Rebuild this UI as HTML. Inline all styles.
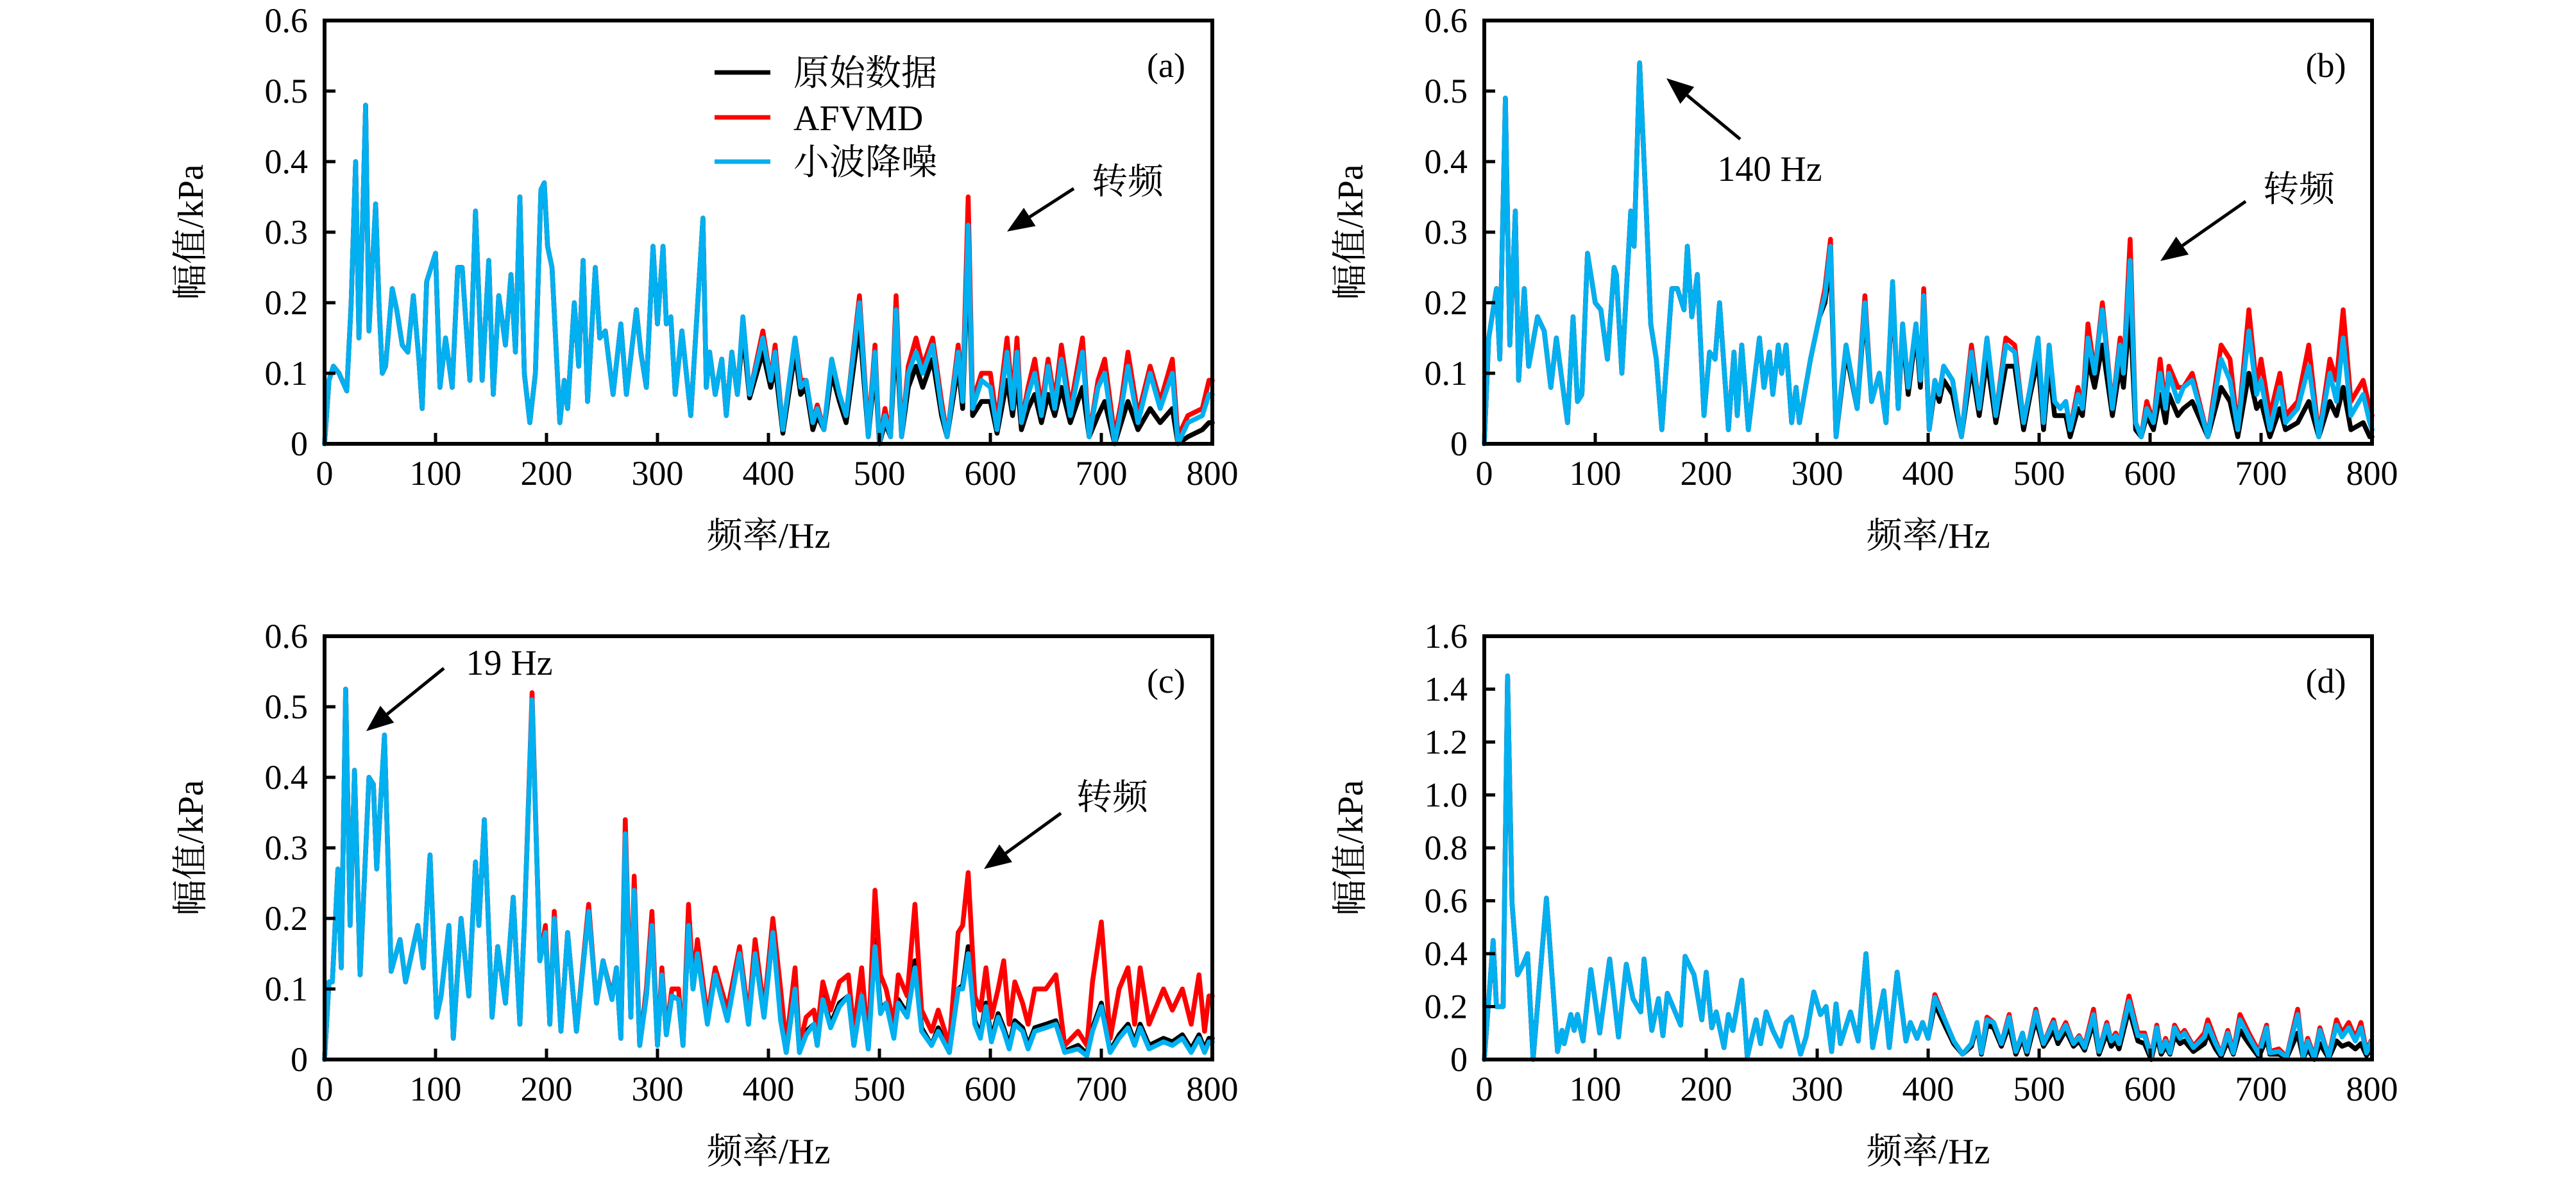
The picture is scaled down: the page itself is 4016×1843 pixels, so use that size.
<!DOCTYPE html>
<html><head><meta charset="utf-8"><style>
html,body{margin:0;padding:0;background:#fff;}
svg{display:block;}
.tk{font-family:"Liberation Serif","Noto Serif CJK SC",serif;font-size:54px;fill:#000;}
.cj{font-family:"Liberation Serif","Noto Serif CJK SC",serif;font-size:56px;fill:#000;}
</style></head><body>
<svg id="fig" xmlns="http://www.w3.org/2000/svg" width="4016" height="1843" viewBox="0 0 4016 1843"></svg>
<script>
// ---- Panel (a) ----
const aLowFreq=[0,4,8,13,20,24,28,31,34,37,40,46,49,52,55,61,65,70,75,80,85,88,92,100,104,109,115,120,124,131,136,142,148,152,157,163,168,172,176,180,185,190,195,198,201,205,212,216,219,225,229,233,237,244,248,253,260,267,272,281,285,290,296,300,305,308,312,316,322,330,341,344,347,352,358,362,367,372];
const aLowVal=[0,.09,.11,.10,.075,.20,.40,.15,.30,.48,.16,.34,.20,.10,.11,.22,.19,.14,.13,.21,.12,.05,.23,.27,.08,.15,.08,.25,.25,.09,.33,.09,.26,.07,.21,.14,.24,.13,.35,.10,.03,.10,.36,.37,.28,.25,.03,.09,.05,.20,.11,.26,.06,.25,.15,.16,.07,.17,.07,.19,.13,.08,.28,.17,.28,.17,.18,.07,.16,.04,.32,.08,.13,.07,.12,.04,.13,.07];
const aHighFreq=[377,383,395,402,406,413,424,429,434,440,444,450,457,464,470,482,490,496,500,505,510,515,520,526,533,539,548,556,561,571,575,580,584,592,600,606,615,620,624,628,634,640,646,652,658,664,672,683,689,697,703,712,718,724,733,744,753,764,769,778,791,797,800];
const aHighCyan=[.18,.07,.15,.09,.13,.02,.15,.08,.09,.03,.05,.02,.12,.07,.04,.20,.01,.13,0,.04,.01,.19,.01,.10,.13,.10,.14,.05,.01,.13,.06,.31,.05,.09,.08,.02,.13,.05,.13,.03,.07,.10,.04,.11,.05,.12,.04,.13,.01,.08,.10,0,.05,.11,.03,.10,.05,.10,0,.03,.04,.07,.07];
const aHighRed=[.18,.07,.16,.09,.14,.02,.15,.09,.09,.03,.055,.02,.12,.07,.04,.21,.015,.14,0,.05,.01,.21,.01,.11,.15,.11,.15,.06,.01,.14,.07,.35,.06,.10,.10,.03,.15,.06,.15,.03,.08,.12,.05,.12,.06,.14,.05,.15,.01,.09,.12,.01,.06,.13,.04,.11,.06,.12,.01,.04,.05,.09,.09];
const aHighBlack=[.16,.065,.13,.08,.11,.015,.13,.07,.08,.02,.04,.02,.10,.06,.03,.17,.01,.11,0,.03,.01,.16,.01,.08,.11,.08,.12,.04,.01,.11,.05,.28,.04,.06,.06,.015,.09,.04,.09,.02,.05,.07,.03,.07,.04,.08,.03,.08,.01,.04,.06,0,.03,.06,.02,.05,.03,.05,0,.01,.02,.03,.03];
// ---- Panel (b) ----
const bLowFreq=[0,4,6,11,14,19,23,28,31,36,40,48,54,60,65,75,80,84,88,93,100,105,111,117,119,124,132,135,140,146,150,155,160,169,174,180,183,187,192,198,203,208,212,220,225,228,232,238,248,252,257,260,265,268,272,277,281,284,294,302];
const bLowVal=[0,.15,.17,.22,.12,.49,.14,.33,.09,.22,.11,.18,.16,.08,.15,.03,.18,.06,.07,.27,.20,.19,.12,.25,.24,.10,.33,.28,.54,.33,.17,.12,.02,.22,.22,.19,.28,.18,.24,.04,.13,.12,.20,.02,.13,.04,.14,.02,.15,.08,.13,.07,.14,.10,.14,.03,.08,.03,.12,.18];
const bHighFreq=[307,312,317,326,336,343,349,356,362,368,373,377,382,389,393,396,401,406,410,414,422,430,439,446,453,461,470,478,486,492,499,504,509,514,519,524,528,535,539,544,550,557,566,573,576,582,587,592,597,603,609,614,617,625,630,638,652,664,672,679,689,696,700,708,717,722,733,743,752,762,768,774,781,792,798,800];
const bHighCyan=[.21,.28,.01,.14,.05,.20,.06,.10,.03,.23,.05,.17,.08,.17,.09,.21,.02,.09,.07,.11,.09,.01,.13,.05,.15,.04,.14,.13,.03,.08,.15,.03,.14,.06,.05,.06,.02,.07,.05,.15,.10,.19,.05,.14,.10,.26,.03,.01,.05,.03,.10,.05,.10,.06,.08,.09,.01,.12,.09,.02,.16,.07,.09,.02,.08,.03,.05,.11,.01,.10,.06,.15,.04,.07,.03,.02];
const bHighRed=[.22,.29,.01,.14,.05,.21,.06,.10,.03,.23,.05,.17,.08,.17,.09,.22,.02,.09,.07,.11,.09,.01,.14,.05,.15,.04,.15,.14,.03,.08,.15,.03,.14,.06,.05,.06,.02,.08,.05,.17,.10,.20,.05,.15,.10,.29,.03,.01,.06,.03,.12,.05,.11,.08,.08,.10,.01,.14,.12,.02,.19,.08,.12,.04,.10,.04,.06,.14,.01,.12,.09,.19,.06,.09,.05,.04];
const bHighBlack=[.20,.26,.01,.13,.05,.19,.06,.10,.03,.22,.05,.16,.07,.16,.08,.20,.02,.08,.06,.09,.07,.01,.11,.04,.12,.03,.11,.11,.02,.07,.12,.02,.11,.04,.04,.04,.01,.05,.04,.12,.08,.14,.04,.11,.08,.19,.02,.01,.04,.02,.07,.03,.07,.04,.05,.06,.01,.08,.06,.01,.10,.05,.06,.01,.05,.02,.03,.06,.01,.06,.04,.08,.02,.03,.01,.01];
// ---- Panel (c) ----
const cLowFreq=[0,4,7,12,15,19,23,27,32,40,44,47,54,60,68,73,84,89,95,101,105,112,116,123,130,136,139,144,151,156,163,170,176,180];
const cLowVal=[0,.11,.11,.27,.13,.525,.19,.41,.12,.40,.39,.27,.46,.125,.17,.11,.19,.13,.29,.06,.09,.19,.03,.20,.09,.28,.19,.34,.06,.16,.08,.23,.05,.19];
const cHighFreq=[187,194,199,203,207,213,219,227,238,245,251,259,263,267,271,276,279,284,290,295,300,304,308,313,319,323,328,332,336,345,352,363,374,382,388,396,404,411,416,424,428,434,441,444,449,456,464,472,477,484,490,496,501,506,513,517,525,532,538,547,553,563,571,575,580,586,591,596,601,607,612,617,622,629,634,640,650,659,667,679,687,692,700,708,716,724,730,735,743,756,764,773,781,788,793,797,800];
const cHighCyan=[.51,.14,.18,.05,.20,.04,.18,.04,.21,.08,.14,.085,.13,.03,.32,.06,.24,.02,.09,.19,.02,.12,.035,.09,.085,.02,.19,.10,.15,.05,.12,.055,.15,.05,.15,.06,.18,.055,.01,.10,.01,.035,.05,.02,.085,.045,.075,.09,.02,.09,.015,.16,.065,.08,.03,.08,.06,.13,.04,.02,.04,.01,.10,.10,.15,.05,.03,.075,.025,.06,.04,.015,.05,.04,.015,.04,.045,.05,.01,.015,.005,.04,.075,.01,.03,.045,.02,.045,.015,.025,.02,.03,.01,.03,.01,.025,.025];
const cHighRed=[.52,.14,.19,.05,.21,.04,.18,.04,.22,.08,.14,.09,.13,.03,.34,.06,.26,.02,.10,.21,.02,.13,.04,.10,.10,.02,.22,.11,.17,.06,.13,.07,.16,.06,.17,.07,.20,.10,.02,.13,.02,.06,.07,.04,.11,.07,.11,.12,.04,.13,.02,.24,.12,.10,.05,.12,.09,.22,.07,.04,.07,.02,.18,.19,.265,.09,.07,.13,.06,.10,.14,.05,.11,.08,.05,.10,.10,.12,.02,.04,.02,.11,.195,.03,.10,.13,.05,.13,.05,.10,.07,.10,.05,.12,.04,.09,.09];
const cHighBlack=[.51,.14,.18,.05,.20,.04,.18,.04,.21,.08,.14,.085,.13,.03,.32,.06,.24,.02,.09,.19,.02,.12,.035,.09,.085,.02,.19,.10,.15,.055,.12,.06,.15,.05,.15,.06,.18,.06,.01,.10,.01,.04,.05,.02,.09,.05,.08,.09,.02,.09,.015,.17,.07,.08,.035,.085,.065,.14,.045,.02,.045,.01,.10,.105,.16,.055,.035,.08,.03,.065,.045,.02,.055,.045,.02,.045,.05,.055,.012,.02,.008,.045,.08,.012,.035,.05,.025,.05,.02,.03,.025,.035,.015,.035,.015,.03,.03];
// ---- Panel (d) ----
const dLowFreq=[0,8,11,17,21,25,30,35,39,44,56,66,70,72,78,81,84,89,96,104,113,121,128,134,141,144,151,157,161,165,177,181,189,196,200,205,209,216,220,224,232,237,245,249,254,260,267,272,277,285,290,297,303,308,313,317,321,330,337,344,350,360,365,372,380,384,390,395,400];
const dLowVal=[0,.45,.20,.20,1.45,.59,.32,.36,.40,0,.61,.03,.11,.06,.17,.11,.17,.07,.34,.10,.38,.085,.36,.23,.18,.38,.11,.23,.09,.25,.13,.39,.32,.15,.33,.12,.18,.045,.17,.11,.30,.01,.15,.06,.18,.11,.05,.14,.16,.02,.085,.255,.17,.20,.03,.21,.06,.18,.07,.40,.045,.26,.045,.33,.07,.14,.08,.14,.08];
const dHighFreq=[406,416,423,431,439,444,448,453,459,466,473,479,485,489,497,504,513,517,524,531,536,541,549,554,561,565,569,572,581,589,595,601,606,610,614,618,622,627,631,639,649,652,659,664,670,675,681,689,698,705,708,716,723,733,738,742,748,753,761,768,773,779,785,790,795,799];
const dHighCyan=[.235,.14,.07,.02,.06,.14,.025,.15,.14,.06,.16,.03,.10,.03,.18,.06,.14,.08,.13,.06,.085,.045,.17,.03,.13,.07,.09,.06,.22,.09,.09,.01,.12,.03,.07,.025,.12,.08,.10,.045,.085,.13,.06,.02,.10,.025,.15,.085,.02,.12,.025,.03,.01,.17,.01,.07,.005,.11,.01,.13,.085,.12,.07,.12,.025,.065];
const dHighRed=[.245,.14,.07,.02,.06,.14,.025,.16,.14,.06,.17,.03,.10,.03,.19,.06,.15,.08,.14,.06,.09,.05,.19,.03,.14,.07,.10,.06,.24,.10,.10,.01,.13,.03,.08,.03,.13,.09,.11,.05,.10,.15,.07,.02,.11,.03,.17,.10,.03,.13,.03,.04,.01,.19,.01,.08,.01,.12,.01,.15,.10,.14,.08,.14,.03,.07];
const dHighBlack=[.21,.12,.06,.02,.05,.13,.02,.13,.12,.05,.13,.02,.08,.02,.15,.05,.11,.06,.11,.05,.07,.035,.14,.02,.10,.05,.07,.04,.19,.07,.06,0,.09,.02,.05,.02,.09,.06,.07,.03,.06,.10,.04,.01,.07,.02,.11,.06,.01,.08,.02,.02,.005,.10,.005,.04,0,.06,.005,.07,.05,.06,.04,.06,.015,.04];
// ---- Axis ticks ----
const xTicks=[0,100,200,300,400,500,600,700,800];
const yTicksSmall=[0,0.1,0.2,0.3,0.4,0.5,0.6];
const yTickLabelsSmall=["0","0.1","0.2","0.3","0.4","0.5","0.6"];
const yTicksLarge=[0,0.2,0.4,0.6,0.8,1.0,1.2,1.4,1.6];
const yTickLabelsLarge=["0","0.2","0.4","0.6","0.8","1.0","1.2","1.4","1.6"];
const seriesNames=["原始数据","AFVMD","小波降噪"];

const NS="http://www.w3.org/2000/svg";
const svg=document.getElementById('fig');
function mk(tag,attrs,parent){const e=document.createElementNS(NS,tag);for(const k in attrs)e.setAttribute(k,attrs[k]);(parent||svg).appendChild(e);return e;}

const panels=[
 {id:'a',x0:506,y0:32,freq:aLowFreq.concat(aHighFreq),cyan:aLowVal.concat(aHighCyan),red:aLowVal.concat(aHighRed),black:aLowVal.concat(aHighBlack),yt:yTicksSmall,yl:yTickLabelsSmall,ymax:0.6},
 {id:'b',x0:2314,y0:32,freq:bLowFreq.concat(bHighFreq),cyan:bLowVal.concat(bHighCyan),red:bLowVal.concat(bHighRed),black:bLowVal.concat(bHighBlack),yt:yTicksSmall,yl:yTickLabelsSmall,ymax:0.6},
 {id:'c',x0:506,y0:992,freq:cLowFreq.concat(cHighFreq),cyan:cLowVal.concat(cHighCyan),red:cLowVal.concat(cHighRed),black:cLowVal.concat(cHighBlack),yt:yTicksSmall,yl:yTickLabelsSmall,ymax:0.6},
 {id:'d',x0:2314,y0:992,freq:dLowFreq.concat(dHighFreq),cyan:dLowVal.concat(dHighCyan),red:dLowVal.concat(dHighRed),black:dLowVal.concat(dHighBlack),yt:yTicksLarge,yl:yTickLabelsLarge,ymax:1.6}
];
const W=1384,H=660;

panels.forEach(p=>{
  const g=mk('g',{});
  
  
  const sx=f=>p.x0+f/800*W;
  const sy=v=>p.y0+H-v/p.ymax*H;
  const plotG=mk('g',{},g);
  
  
  [['black','#000000','original-data-line'],['red','#ff0000','afvmd-line'],['cyan','#00b0f0','wavelet-denoise-line']].forEach(s=>{
    const pts=p.freq.map((f,i)=>sx(f).toFixed(1)+','+sy(p[s[0]][i]).toFixed(1)).join(' ');
    const pl=mk('polyline',{points:pts,fill:'none',stroke:s[1],'stroke-width':7.5,'stroke-linejoin':'round','stroke-linecap':'round'},plotG);
    
    
  });
  const fr=mk('rect',{x:p.x0,y:p.y0,width:W,height:H,fill:'none',stroke:'#000','stroke-width':6},g);
  
  
  xTicks.forEach(t=>{
    const x=sx(t);
    const l=mk('line',{x1:x,x2:x,y1:p.y0+H,y2:p.y0+H-17,stroke:'#000','stroke-width':5},g);
    
    
    const tx=mk('text',{x:x,y:p.y0+H+64,'text-anchor':'middle',class:'tk'},g);
    tx.textContent=t;
    
    
  });
  p.yt.forEach((t,i)=>{
    const y=sy(t);
    const l=mk('line',{x1:p.x0,x2:p.x0+17,y1:y,y2:y,stroke:'#000','stroke-width':5},g);
    
    
    const tx=mk('text',{x:p.x0-26,y:y+18,'text-anchor':'end',class:'tk'},g);
    tx.textContent=p.yl[i];
    
    
  });
  const xt=mk('text',{x:p.x0+W/2,y:p.y0+H+162,'text-anchor':'middle',class:'cj'},g);
  xt.textContent='频率/Hz';
  
  
  const yx=p.x0-190, yy=p.y0+H/2;
  const yt=mk('text',{x:yx,y:yy,'text-anchor':'middle',class:'cj',transform:`rotate(-90 ${yx} ${yy})`},g);
  yt.textContent='幅值/kPa';
  
  
  const pl=mk('text',{x:p.x0+W-72,y:p.y0+88,'text-anchor':'middle',class:'tk'},g);
  pl.textContent='('+p.id+')';
  
  
});

// legend in panel (a)
const lg=mk('g',{});


[['#000000',113],['#ff0000',183],['#00b0f0',252]].forEach((s,i)=>{
  const e=mk('g',{},lg);
  
  
  mk('line',{x1:1114,x2:1201,y1:s[1],y2:s[1],stroke:s[0],'stroke-width':7},e);
  const t=mk('text',{x:1237,y:s[1]+20,class:'cj'},e);
  t.textContent=seriesNames[i];
});

// annotations
function arrow(x1,y1,x2,y2,name){
  const g=mk('g',{});
  
  
  const dx=x2-x1,dy=y2-y1,L=Math.hypot(dx,dy),ux=dx/L,uy=dy/L,hl=42,hw=17;
  const bx=x2-ux*hl,by=y2-uy*hl;
  mk('line',{x1:x1,y1:y1,x2:bx,y2:by,stroke:'#000','stroke-width':5},g);
  mk('polygon',{points:`${x2},${y2} ${bx-uy*hw},${by+ux*hw} ${bx+uy*hw},${by-ux*hw}`,fill:'#000'},g);
}
function label(x,y,txt,name){
  const t=mk('text',{x:x,y:y,'text-anchor':'middle',class:'cj'});
  t.textContent=txt;
  
  
}
label(1758,302,'转频','rotation-frequency-label-a');
arrow(1674,294,1570,361,'arrow-a');
label(2759,282,'140 Hz','peak-140hz-label');
arrow(2713,217,2598,122,'arrow-140hz');
label(3584,314,'转频','rotation-frequency-label-b');
arrow(3501,314,3368,407,'arrow-b');
label(794,1052,'19 Hz','peak-19hz-label');
arrow(692,1042,571,1140,'arrow-19hz');
label(1734,1262,'转频','rotation-frequency-label-c');
arrow(1654,1268,1534,1355,'arrow-c');
</script>
</body></html>
